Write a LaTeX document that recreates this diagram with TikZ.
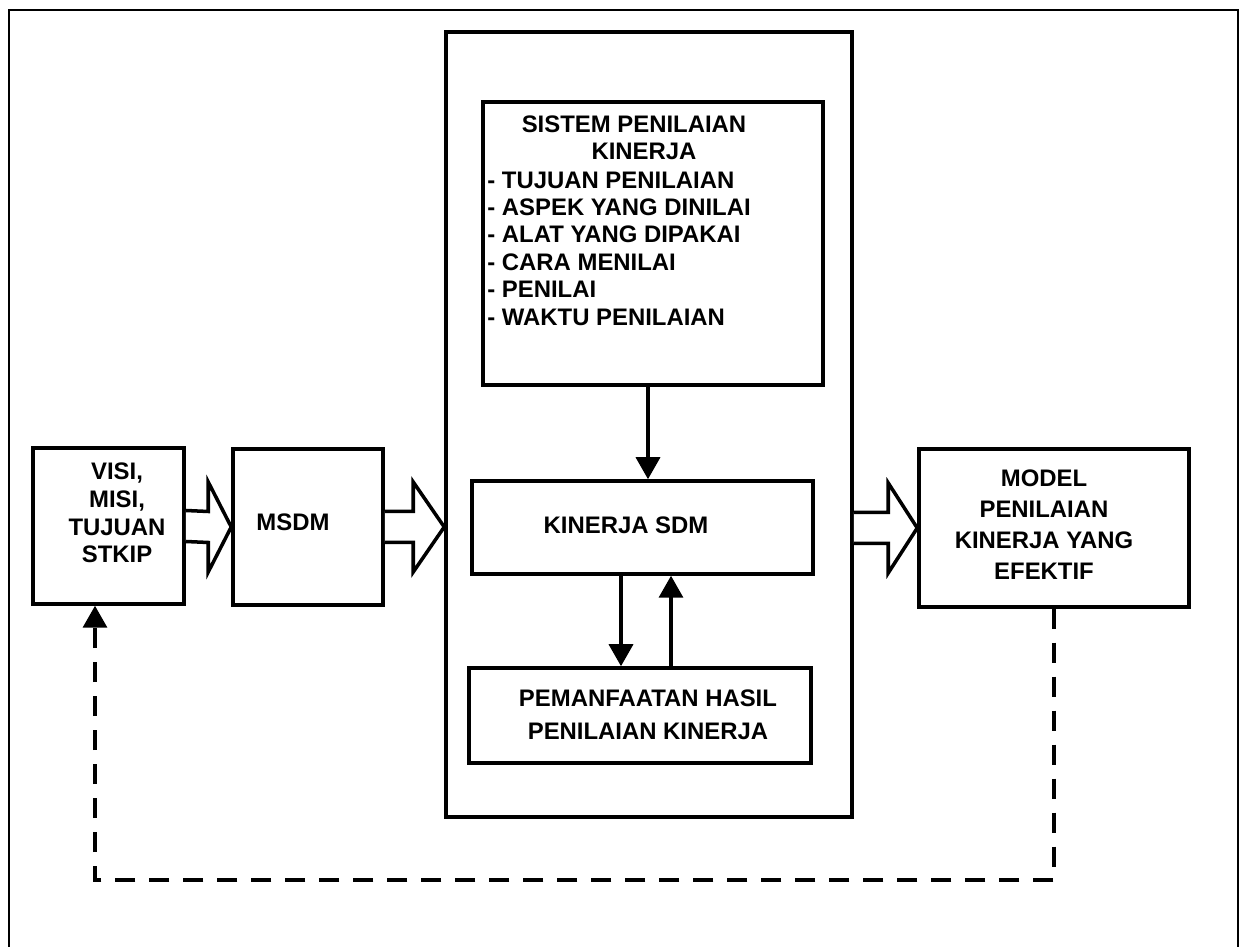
\documentclass[tikz,border=0pt]{standalone}
\usepackage{fontspec}
\setmainfont{Liberation Sans}
\usetikzlibrary{arrows.meta, calc}
\newcommand{\BoxFont}[1][15.6pt]{\bfseries\fontsize{13.6pt}{#1}\selectfont}
\newcommand{\fatarrow}[3]{%
  \draw[fat] ($(#1)+(0,0.31)$) -- ($(#2)+(-#3,0.31)$) -- ($(#2)+(-#3,0.9)$) -- (#2)
    -- ($(#2)+(-#3,-0.9)$) -- ($(#2)+(-#3,-0.31)$) -- ($(#1)+(0,-0.31)$);}

\begin{document}
\begin{tikzpicture}[
  box/.style={draw, line width=2pt, inner sep=0pt},
  txt/.style={font=\BoxFont, align=center, inner sep=0pt},
  flow/.style={line width=2pt, -{Triangle[length=0.44cm, width=0.48cm]}},
  feedback/.style={line width=2pt, dash pattern=on 0.4cm off 0.28cm,
    -{Triangle[length=0.44cm, width=0.48cm]}},
  fat/.style={draw, line width=2pt, fill=white, line join=miter}
]
  \useasboundingbox (0,0) rectangle (24.9,18.94);
  % page frame, open at the bottom
  \draw[line width=1.2pt] (0.18,0) -- (0.18,18.74) -- (24.76,18.74) -- (24.76,0);

  % boxes
  \node[box, minimum width=3.02cm, minimum height=3.12cm] (visi) at (2.17,8.42) {};
  \node[box, minimum width=3.00cm, minimum height=3.12cm] (msdm) at (6.16,8.40) {};
  \node[box, minimum width=8.12cm, minimum height=15.70cm] (sys) at (12.98,10.45) {};
  \node[box, minimum width=6.80cm, minimum height=5.66cm] (sistem) at (13.06,14.07) {};
  \node[box, minimum width=6.82cm, minimum height=1.86cm] (sdm) at (12.85,8.39) {};
  \node[box, minimum width=6.84cm, minimum height=1.90cm] (manfaat) at (12.80,4.63) {};
  \node[box, minimum width=5.40cm, minimum height=3.16cm] (model) at (21.08,8.38) {};

  % texts
  \node[txt, font={\BoxFont[15.8pt]}] (visitext) at (2.34,8.68) {VISI,\\MISI,\\TUJUAN\\STKIP};
  \node[txt] (msdmtext) at (5.86,8.50) {MSDM};
  \node[txt] (sistemtitle) at (12.68,16.19) {SISTEM PENILAIAN\\\hspace*{0.4cm}KINERJA};
  \node[txt, align=left, anchor=west] (sistemlist) at (9.74,13.97)
    {- TUJUAN PENILAIAN\\- ASPEK YANG DINILAI\\- ALAT YANG DIPAKAI\\- CARA MENILAI\\- PENILAI\\- WAKTU PENILAIAN};
  \node[txt] (sdmtext) at (12.52,8.44) {KINERJA SDM};
  \node[txt, font={\BoxFont[18.8pt]}] (manfaattext) at (12.96,4.64) {PEMANFAATAN HASIL\\PENILAIAN KINERJA};
  \node[txt, font={\BoxFont[17.6pt]}] (modeltext) at (20.88,8.44) {MODEL\\PENILAIAN\\KINERJA YANG\\EFEKTIF};

  % block arrows
  \coordinate (sysin) at (msdm.east -| sys.west);
  \coordinate (sysout) at (model.west -| sys.east);
  \fatarrow{visi.east}{msdm.west}{0.46}
  \fatarrow{msdm.east}{sysin}{0.62}
  \fatarrow{sysout}{model.west}{0.58}

  % inner arrows
  \draw[flow] ([xshift=-0.1cm]sistem.south) -- ([xshift=-0.1cm]sistem.south |- sdm.north);
  \draw[flow] ([xshift=-0.43cm]sdm.south) -- ([xshift=-0.43cm]sdm.south |- manfaat.north);
  \draw[flow] ([xshift=0.57cm]sdm.south |- manfaat.north) -- ([xshift=0.57cm]sdm.south);

  % feedback
  \coordinate (fbleft) at (1.90,1.34);
  \draw[feedback] (model.south) |- (fbleft) -- (fbleft |- visi.south);
\end{tikzpicture}
\end{document}
